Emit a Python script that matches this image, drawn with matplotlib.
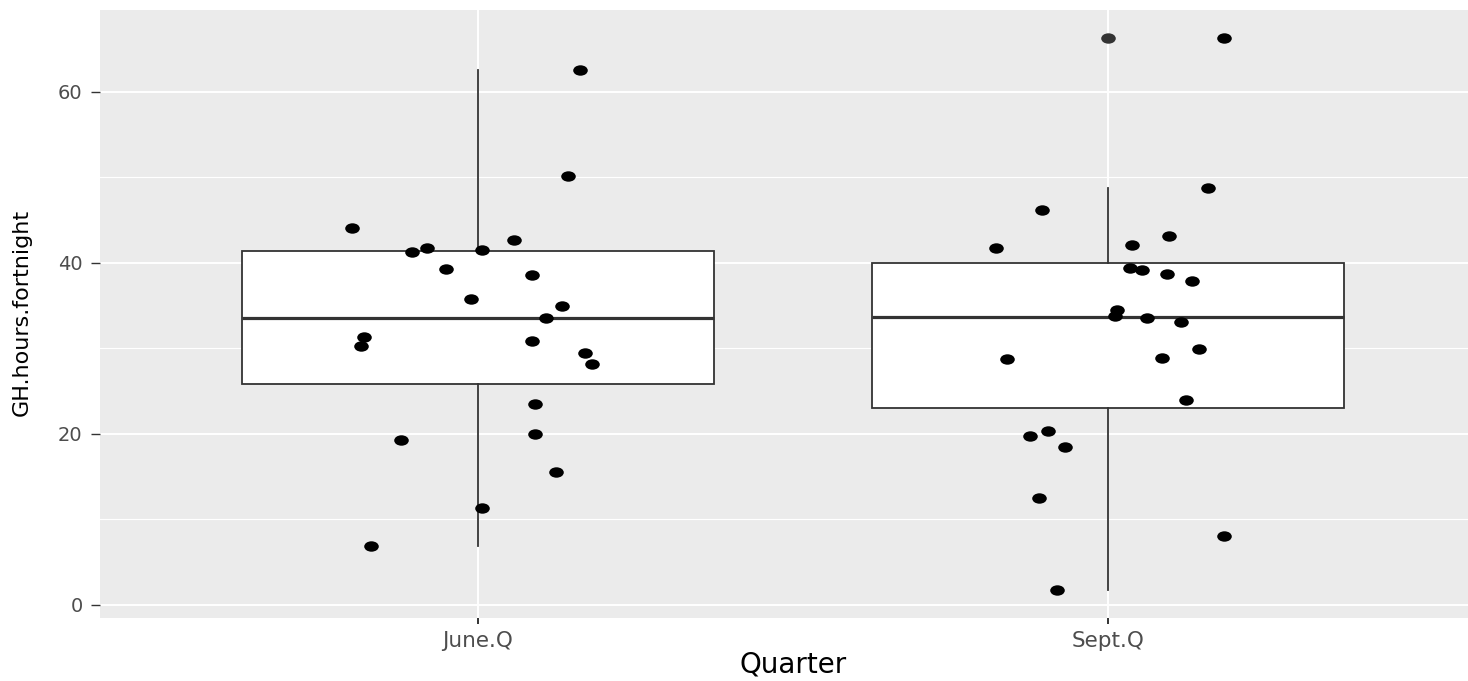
import numpy as np
import matplotlib
matplotlib.use("Agg")
import matplotlib.pyplot as plt
from matplotlib.path import Path
from matplotlib.transforms import Affine2D

# data
quarters = ["June.Q", "Sept.Q"]

june_hours = [44.1, 31.3, 30.3, 41.3, 41.7, 39.3, 35.7, 41.5, 19.3, 11.3, 6.9,
              62.55, 50.1, 42.7, 38.5, 34.9, 33.5, 30.9, 29.4, 28.1, 23.5, 20.0, 15.5]
june_jitter = [-0.200, -0.181, -0.186, -0.105, -0.081, -0.051, -0.011, 0.006, -0.122, 0.006, -0.170,
               0.162, 0.143, 0.057, 0.086, 0.134, 0.108, 0.086, 0.170, 0.181, 0.091, 0.091, 0.124]

sept_hours = [66.3, 48.7, 46.1, 41.7, 42.1, 43.1, 39.4, 39.1, 38.7, 37.9, 34.5, 33.8,
              33.5, 33.1, 29.9, 28.9, 28.7, 23.9, 20.3, 19.7, 18.5, 12.5, 8.0, 1.7]
sept_jitter = [0.184, 0.159, -0.105, -0.178, 0.038, 0.097, 0.035, 0.054, 0.094, 0.134, 0.014, 0.011,
               0.062, 0.116, 0.145, 0.086, -0.161, 0.124, -0.095, -0.124, -0.068, -0.110, 0.184, -0.081]

hours = [june_hours, sept_hours]
jitter = [june_jitter, sept_jitter]

W, H = 1468, 681
fig = plt.figure(figsize=(W / 100, H / 100), dpi=100)
# panel runs past the right edge like in the reference
ax = fig.add_axes([100 / W, 63 / H, 1386 / W, 608 / H])
ax.set_facecolor("#EBEBEB")

# slightly wide dots (reference is stretched horizontally)
dot = Path.unit_circle().transformed(Affine2D().scale(1.4, 1.0))

bp = ax.boxplot(hours, positions=[1, 2], widths=0.75, whis=1.5, showcaps=False,
                patch_artist=True, zorder=2,
                boxprops=dict(facecolor="white", edgecolor="#333333", linewidth=1.3),
                medianprops=dict(color="#333333", linewidth=2.3),
                whiskerprops=dict(color="#333333", linewidth=1.3),
                flierprops=dict(marker=dot, markersize=10.5, markerfacecolor="#333333",
                                markeredgecolor="none"))

for i, (vals, jit) in enumerate(zip(hours, jitter)):
    xs = np.array(jit) + i + 1
    ax.plot(xs, vals, linestyle="none", marker=dot, markersize=10.5,
            markerfacecolor="black", markeredgecolor="none", zorder=3)

lo = min(min(v) for v in hours)
hi = max(max(v) for v in hours)
pad = 0.05 * (hi - lo)
ax.set_ylim(lo - pad, hi + pad)
ax.set_xlim(0.4, 2.6)

ax.set_yticks([0, 20, 40, 60])
ax.set_yticks([10, 30, 50], minor=True)
ax.set_xticks([1, 2])
ax.set_xticklabels(quarters)
ax.grid(which="major", color="white", linewidth=1.4, zorder=0)
ax.grid(which="minor", axis="y", color="white", linewidth=0.8, zorder=0)
ax.set_axisbelow(True)

for s in ax.spines.values():
    s.set_visible(False)

ax.tick_params(axis="y", which="major", length=6.5, width=1.0, color="#333333",
               labelcolor="#4D4D4D", labelsize=14, pad=6)
ax.tick_params(axis="x", which="major", length=4.5, width=1.4, color="#333333",
               labelcolor="#4D4D4D", labelsize=15.5, pad=5)
ax.tick_params(which="minor", length=0)

fig.text(793 / W, 1 - 664 / H, "Quarter", ha="center", va="center", fontsize=20, color="black")
fig.text(22 / W, 1 - 312 / H, "GH.hours.fortnight", ha="center", va="center",
         rotation=90, fontsize=16, color="black")

fig.savefig("out.png", dpi=100)
